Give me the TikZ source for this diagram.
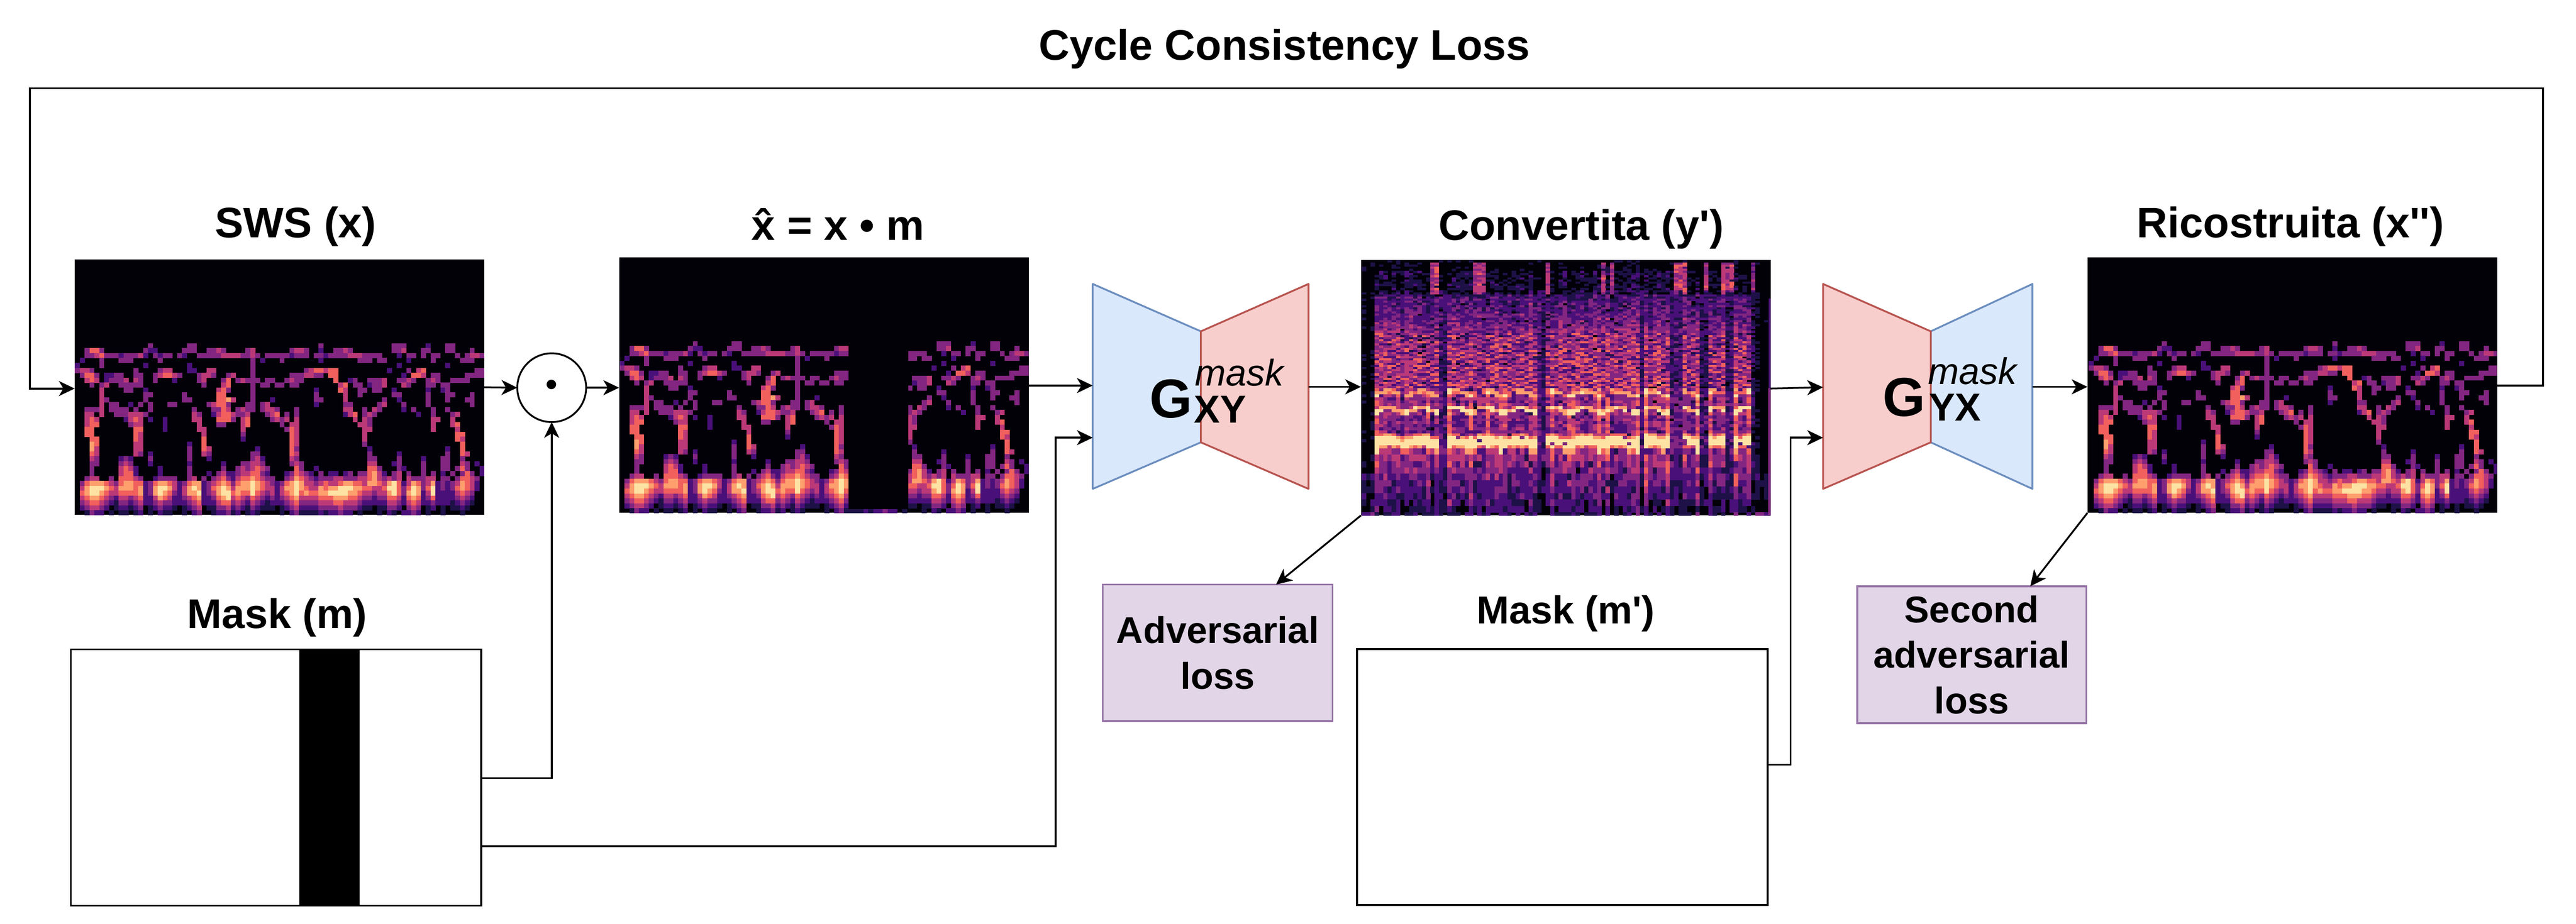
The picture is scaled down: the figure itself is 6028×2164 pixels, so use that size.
\documentclass[tikz,border=0pt]{standalone}
\usepackage{fontspec}
\setmainfont{Liberation Sans}
\newfontfamily\plainf{Liberation Sans}
\usetikzlibrary{arrows.meta}
\definecolor{k0}{HTML}{020108}
\definecolor{mg2}{HTML}{4A1079}
\definecolor{mg3}{HTML}{822681}
\definecolor{blueF}{HTML}{DAE8FC}\definecolor{blueS}{HTML}{6C8EBF}
\definecolor{pinkF}{HTML}{F8CECC}\definecolor{pinkS}{HTML}{B85450}
\definecolor{lilaF}{HTML}{E1D5E7}\definecolor{lilaS}{HTML}{9673A6}
\tikzset{
  conn/.style={line width=1.2pt,-{Stealth[length=10.5pt,width=10pt,inset=3pt]}},
  spec/.style={inner sep=0pt,outer sep=0pt,minimum width=9.58cm,minimum height=5.98cm},
  title/.style={anchor=base,inner sep=0pt,font=\plainf\bfseries\fontsize{28.4}{34}\selectfont},
  maskbox/.style={draw=black,line width=1.2pt,fill=white,inner sep=0pt,outer sep=0pt,minimum width=9.6cm,minimum height=6cm},
  lossbox/.style={draw=lilaS,fill=lilaF,line width=1.2pt,inner sep=0pt,outer sep=0pt,align=center,font=\plainf\bfseries\fontsize{24.75}{30.4}\selectfont},
  gbig/.style={anchor=base,inner sep=0pt,font=\plainf\bfseries\fontsize{36.5}{40}\selectfont},
  gsub/.style={anchor=base,inner sep=0pt,font=\plainf\bfseries\fontsize{26}{30}\selectfont},
  gsup/.style={anchor=base,inner sep=0pt,font=\plainf\itshape\fontsize{24.75}{30}\selectfont},
}
\makeatletter
\newcommand\rawinv[1]{\pgfsys@invoke{#1}}
\makeatother
\expandafter\def\csname pc1\endcsname{.114 .067 .278 rg}
\expandafter\def\csname pc2\endcsname{.29 .063 .475 rg}
\expandafter\def\csname pc3\endcsname{.51 .149 .506 rg}
\expandafter\def\csname pc4\endcsname{.737 .224 .471 rg}
\expandafter\def\csname pc5\endcsname{.945 .376 .365 rg}
\expandafter\def\csname pc6\endcsname{.996 .624 .427 rg}
\expandafter\def\csname pc7\endcsname{.992 .886 .639 rg}
\newcommand\pxOpen[2]{\pgfmathsetmacro\ee{#1*0.283465}\pgfmathsetmacro\ff{-#2*0.283465}\rawinv{q 0.0283465 0 0 -0.0283465 \ee\space\ff\space cm}}
\newcommand\pxClose{\rawinv{Q}}
% --- cell painter for the harmonic spectrogram ---
\def\scancell#1{\ifx#1\relax\let\swnext\relax\else
  \ifx#1.\else\rawinv{\csname pc#1\endcsname\space\the\numexpr\cx*114\relax\space\the\numexpr\ry*115\relax\space 119 120 re f}\fi
  \edef\cx{\the\numexpr\cx+1\relax}\let\swnext\scancell\fi\swnext}
\newcommand\srow[2]{\edef\ry{#1}\foreach \cc/\ss in {#2}{\edef\cx{\cc}\expandafter\scancell\ss\relax}}
\newcommand\sfull[2]{\edef\ry{#1}\edef\cx{0}\scancell#2\relax}
\newcommand\swsData{%
\srow{17}{15/3,23/33,50/3,65/333,72/2,76/33}
\srow{18}{2/3553,14/32,16/2,22/333,27/3343,35/3,36/4,44/3443,50/2,53/3343,65/334,71/33,76/33,81/3}
\srow{19}{2/3,3/34,5/53,7/3323334,14/2,16/32,18/33,21/32,25/3333,29/3444433,36/43,39/333332,45/333,49/33,51/2,52/3333,56/4443,60/33,62/3,66/2,68/33,71/3,73/33,78/3,80/3443}
\srow{20}{1/2,5/3,9/333,17/3,36/3,38/2,42/3,50/2,58/333,62/33,68/2,73/3,79/333}
\srow{21}{0/2,5/3,14/2,23/2,36/3,66/2,76/2}
\srow{22}{0/3443,12/3,17/344,23/22,27/44,36/3,47/3455,51/455,64/2,68/3,70/45,82/33}
\srow{23}{1/3553,6/22,8/33,12/33,16/345543,25/3443,31/34,36/3,44/33,46/344,49/33,52/55,67/2,69/554,73/33,80/3333}
\srow{24}{2/454,6/23,8/334,12/43,16/3,20/2,25/34,30/35,33/343,36/33,39/33,43/3433,53/5,56/23,60/3334,66/3,67/343,72/343,77/3333}
\srow{25}{3/3,5/34,9/3333,13/3,26/3,30/45,36/3,38/33,41/33,44/33,54/45,57/33,60/2334,67/43,72/33,75/33}
\srow{26}{5/4,10/33,14/2,29/4,30/53,36/3,49/2,54/54,58/33,61/33,65/2,72/2,75/2,76/3}
\srow{27}{5/4,14/33,22/3,29/55,36/3,49/3,55/4,58/3,65/33,72/3,76/33,81/3}
\srow{28}{5/43,14/3,22/33,29/556,32/4,36/3,40/2,49/33,55/4,63/3,66/2,72/3,76/3,80/33}
\srow{29}{5/4,7/33,11/2,13/3,15/3,19/33,27/34,29/553,35/33,38/34,49/2,55/33,62/34,67/3,72/3,81/3}
\srow{30}{2/3,3/33,5/4,7/3333,12/3,15/3,24/3,28/33,30/54,33/34,35/33,38/344,41/3,45/3,55/44,59/3,61/43,67/2,69/3,73/3,76/3}
\srow{31}{2/44,5/4,8/33,10/344,13/43,24/43,28/2,29/4,30/55,32/43,34/34,39/345,43/3,45/3,55/2,56/45,59/3,60/43,70/2,73/3,77/34}
\srow{32}{2/45,4/4,10/2,11/454,15/2,18/2,24/44,29/555,32/3,34/45,40/34,42/34,45/4,57/4,59/43,73/44,77/4}
\srow{33}{2/45,4/5,11/344,18/2,25/4,29/33,34/45,42/3,44/44,58/443,73/4,77/45}
\srow{34}{2/55,12/55,18/2,25/44,34/4,43/3,44/54,59/44,73/4,78/4}
\srow{35}{2/55,12/54,26/4,34/3,44/54,59/4,78/55}
\srow{36}{3/55,12/54,26/5,34/2,44/54,59/4,78/54}
\srow{37}{3/65,12/44,23/2,26/5,44/54,59/3,79/5}
\srow{38}{3/64,12/44,23/3,26/54,37/2,44/53,60/2,76/2,79/5}
\srow{39}{3/54,12/43,15/2,23/3,26/43,36/33,44/54,60/3,66/2,76/3,79/54}
\srow{40}{3/43,9/232,15/3,23/3,27/2,36/342,44/43,60/33,66/3,71/2,75/33,79/3}
\srow{41}{3/33,9/343,15/2,23/2,30/2,34/33,36/443,44/343,60/44,65/23,71/3,75/33,79/43,82/2}
\srow{42}{3/3,9/4542,17/2,23/3,30/3,33/343,36/4543,45/53,49/2,60/553,66/32,71/3,75/33,78/353,83/2}
\sfull{43}{...3.....4 552....2.. ...3...2.3 4223445532 ...235432. 3.22.23.33 5642.34.3. .3.3.2.3.3 53.2}
\sfull{44}{..344..3.5 5543..2333 3..34.3.34 5324556543 3..3465432 3334433344 5643434.43 3344.33.35 543.}
\sfull{45}{.356665435 6655235665 4235662345 6535667654 3235676443 4544566554 6654675246 5346232346 542.}
\sfull{46}{.467776546 6656236776 4246762356 7646667654 4246676544 6566777665 5445775357 6357232356 542.}
\sfull{47}{.567765445 5556236765 3246672346 7756557543 4245675655 6677776654 4344675367 6247222245 43..}
\sfull{48}{.456654324 4345224654 2234562235 6745435432 3234564444 5556665543 3233554256 5235222234 32..}
\sfull{49}{.345543213 3234223433 2223452224 5534324321 2223453333 4445544432 2222443245 4223222123 21..}
\sfull{50}{.234432.12 2123.12322 1.1234.113 3423213211 1.12342222 3333433321 1.11332.34 3.12.1.112 1...}
\sfull{51}{..1322.1.1 1.12.1.211 ..1.23..12 2312.121.. ..1.231111 2122322.1. ..1.21.223 2.1..1...1 ....}
}
\newcommand\swsImage[2]{%
  \fill[k0] (#1,#2) rectangle ++(958,598);
  \begin{scope}
    \clip (#1,#2) rectangle ++(958,598);
    \pxOpen{#1}{#2}
    \swsData
    \pxClose
  \end{scope}
}
% --- procedural speech spectrogram ---
\newcount\lseed \lseed=4242 \newcount\rtmp \newcount\rrn \newcount\vvn \newcount\wwn \newcount\tyc
\def\nextrand{\global\lseed=\numexpr\lseed*1105+12345\relax\rtmp=\lseed\divide\rtmp by 65536 \multiply\rtmp by 65536 \global\advance\lseed by -\rtmp\rrn=\lseed\divide\rrn by 64 }
\def\parsetypes#1{\ifx#1\relax\let\swnext\relax\else\expandafter\edef\csname ty\the\tyc\endcsname{#1}\advance\tyc by 1 \let\swnext\parsetypes\fi\swnext}
\tyc=0
\parsetypes 000 522222222222 5 3 311 522225 333 5225 52222225 11 3 52225 5222225 3 5 3 222225 1 522225 1 44 3 225 1 4 522 3 44 5225 4 0000\relax
\newcommand\absnear[4]{\wwn=\numexpr#1-(#2)\relax\ifnum\wwn<0 \wwn=-\wwn\fi\ifnum\wwn<#3 #4\fi}
\newcommand\weakVal[2]{%
  \ifnum#1<70
    \ifnum#2=1 \ifnum#1>3 \vvn=46 \fi\fi
  \else\ifnum#1<300 \vvn=20
  \else\ifnum#1<440 \vvn=24
  \else\vvn=\numexpr30-(#1-440)/6\relax\fi\fi\fi}
\newcommand\voicedVal[2]{%
  \ifnum#2<78
    \ifnum#1=3 \ifnum#2>3 \vvn=46 \fi\else\ifnum#2>20 \vvn=9 \fi\fi
  \else\ifnum#2<170 \vvn=\numexpr22+(#2-78)/6\relax
  \else\ifnum#2<300
    \vvn=\numexpr36+(#2-170)/30\relax \wwn=\numexpr#2+\wb\relax \divide\wwn by 14 \multiply\wwn by 14 \wwn=\numexpr#2+\wb-\wwn\relax
    \ifnum\wwn<7 \advance\vvn by 14 \else\advance\vvn by -6 \fi
  \else\ifnum#2<442
    \vvn=38
    \ifnum#2>360 \ifnum#2<403 \advance\vvn by -4 \fi\fi
    \absnear{#2}{308+\wb}{6}{\advance\vvn by 34 }%
    \absnear{#2}{347+\wb}{6}{\advance\vvn by 44 }%
    \absnear{#2}{422+\wb/2}{17}{\advance\vvn by 26 }%
    \absnear{#2}{422+\wb/2}{10}{\advance\vvn by 36 }%
    \ifnum#1=5 \advance\vvn by 20 \fi
  \else\vvn=\numexpr42-(#2-440)/5\relax
    \ifnum#1=5 \advance\vvn by 12 \fi
  \fi\fi\fi\fi}
\newcommand\convVal[2]{%
  \vvn=0
  \ifnum#1=0
    \ifnum#2>440 \vvn=10 \fi
    \ifnum#2>580 \vvn=26 \fi
  \else\ifnum#1=1 \weakVal{#2}{0}%
  \else\ifnum#1=4 \weakVal{#2}{1}%
  \else\voicedVal{#1}{#2}\fi\fi\fi}
\newcommand\convImage[2]{%
  \fill[k0] (#1,#2) rectangle ++(958,598);
  \begin{scope}
    \clip (#1,#2) rectangle ++(958,598);
    \pxOpen{#1}{#2}
    \gdef\rowlist{}
    \foreach \y in {0,5,...,295}{\xdef\rowlist{\rowlist\y/55,}}
    \foreach \y in {300,307,...,433}{\xdef\rowlist{\rowlist\y/75,}}
    \foreach \y in {440,455,...,575}{\xdef\rowlist{\rowlist\y/155,}}
    \xdef\rowlist{\rowlist 590/100}
    \foreach \i in {0,...,95}{
      \edef\ty{\csname ty\i\endcsname}
      \pgfmathtruncatemacro\wb{round(6*sin(\i*47))}
      \nextrand\edef\gn{\the\numexpr\rrn*11/1024-5\relax}
      \foreach \y/\h in \rowlist{
        \convVal{\ty}{\y}
        \nextrand\advance\vvn by \numexpr\rrn*23/1024-11+\gn\relax
        \nextrand\ifnum\rrn<35 \divide\vvn by 3 \fi
        \ifnum\vvn<10 \else
          \edef\cn{\ifnum\vvn<20 1\else\ifnum\vvn<32 2\else\ifnum\vvn<44 3\else\ifnum\vvn<56 4\else\ifnum\vvn<70 5\else\ifnum\vvn<86 6\else 7\fi\fi\fi\fi\fi\fi}
          \rawinv{\csname pc\cn\endcsname\space\the\numexpr\i*100\relax\space\the\numexpr\y*10\relax\space 105 \h\space re f}
        \fi
      }
    }
    \pxClose
    \fill[mg3] (#1+953,#2+300) rectangle ++(5,298);
    \fill[mg2] (#1+954,#2+90) rectangle ++(4,210);
  \end{scope}
}
\begin{document}
\begin{tikzpicture}[x=0.01cm,y=-0.01cm]
\useasboundingbox (0,0) rectangle (6028,2164);
\fill[white] (0,0) rectangle (6028,2164);

% spectrogram images
\swsImage{175}{608}
\swsImage{1449}{603}
\fill[k0] (1985,603) rectangle (2125,1192);
\convImage{3185}{609}
\swsImage{4885}{603}
\node[spec] (sws) at (654,907) {};
\node[spec] (xhat) at (1928,902) {};
\node[spec] (conv) at (3664,908) {};
\node[spec] (rec) at (5364,902) {};

% titles
\node[title] (tcycle) at (3006,140) {Cycle Consistency Loss};
\node[title] (tsws) at (692,556) {SWS (x)};
\node[title] (txhat) at (1961,563) {x̂ = x • m};
\node[title] (tconv) at (3700,563) {Convertita (y')};
\node[title] (trec) at (5360,556) {Ricostruita (x'')};
\node[title,font=\plainf\bfseries\fontsize{27.6}{34}\selectfont] (tm) at (649,1472) {Mask (m)};
\node[title,font=\plainf\bfseries\fontsize{25.9}{34}\selectfont] (tmp) at (3664,1460) {Mask (m')};

% masks
\node[maskbox] (mask) at (646,1821) {};
\fill[black] (701,1521) rectangle (841,2121);
\draw[black,line width=1.2pt] (mask.north west) rectangle (mask.south east);
\node[maskbox,minimum width=9.6cm,minimum height=5.99cm] (maskp) at (3656,1820) {};

% product node
\node[draw=black,circle,line width=1.2pt,inner sep=0pt,outer sep=0pt,minimum size=1.61cm,font=\plainf\bfseries\fontsize{22}{24}\selectfont] (dot) at (1291,908) {•};

% generators
\coordinate (a1) at (2557,665);\coordinate (a2) at (2810,776);\coordinate (a3) at (2810,1036);\coordinate (a4) at (2557,1145);
\coordinate (a5) at (3062,665);\coordinate (a6) at (3062,1145);
\draw[blueS,fill=blueF,line width=1.2pt,line join=round] (a1)--(a2)--(a3)--(a4)--cycle;
\draw[pinkS,fill=pinkF,line width=1.2pt,line join=round] (a2)--(a5)--(a6)--(a3)--cycle;
\coordinate (b1) at (4266,665);\coordinate (b2) at (4518,776);\coordinate (b3) at (4518,1036);\coordinate (b4) at (4266,1145);
\coordinate (b5) at (4756,665);\coordinate (b6) at (4756,1145);
\draw[blueS,fill=blueF,line width=1.2pt,line join=round] (b2)--(b5)--(b6)--(b3)--cycle;
\draw[pinkS,fill=pinkF,line width=1.2pt,line join=round] (b1)--(b2)--(b3)--(b4)--cycle;
\node[gbig] (g1) at (2740,978) {G};
\node[gsub] (g1s) at (2855,990) {XY};
\node[gsup] (g1m) at (2900,903) {mask};
\node[gbig] (g2) at (4456,975) {G};
\node[gsub] (g2s) at (4575,986) {YX};
\node[gsup] (g2m) at (4616,900) {mask};

% losses
\node[lossbox,minimum width=5.37cm,minimum height=3.2cm] (adv) at (2849.5,1529) {Adversarial\\loss};
\node[lossbox,minimum width=5.36cm,minimum height=3.21cm] (adv2) at (4614,1533.5) {Second\\adversarial\\loss};

% ports
\coordinate (p1) at (70,910);\coordinate (p2) at (70,207);\coordinate (p3) at (5951,207);\coordinate (p4) at (5951,903);
\coordinate (swsin) at (sws.west |- p1);
\coordinate (recout) at (rec.east |- p4);
\coordinate (q1) at (1291,1822);\coordinate (q1s) at (mask.east |- q1);
\coordinate (q2) at (2470,1982);\coordinate (q2s) at (mask.east |- q2);
\coordinate (q3) at (2470,1025);\coordinate (g1in2) at (a1 |- q3);
\coordinate (g1in1) at (a1 |- 0,903);
\coordinate (g1out) at (a5 |- 0,906);
\coordinate (convin) at (conv.west |- g1out);
\coordinate (q4) at (4190,1791);\coordinate (q4s) at (maskp.east |- q4);
\coordinate (q5) at (4190,1025);\coordinate (g2in2) at (b1 |- q5);
\coordinate (g2in1) at (b1 |- 0,907);
\coordinate (g2out) at (b5 |- 0,906);
\coordinate (recin) at (rec.west |- g2out);
\coordinate (advtip) at (2986,1369);
\coordinate (adv2tip) at (4751,1373);

% connectors
\draw[conn] (recout) -- (p4) -- (p3) -- (p2) -- (p1) -- (swsin);
\draw[conn] (sws.east) -- (dot.west);
\draw[conn] (dot.east) -- (xhat.west |- dot.east);
\draw[conn] (q1s) -- (q1) -- (dot.south);
\draw[conn] (xhat.east |- g1in1) -- (g1in1);
\draw[conn] (q2s) -- (q2) -- (q3) -- (g1in2);
\draw[conn] (g1out) -- (convin);
\draw[conn] (conv.south west) -- (advtip);
\draw[conn] (conv.east |- 0,910) -- (g2in1);
\draw[conn] (q4s) -- (q4) -- (q5) -- (g2in2);
\draw[conn] (g2out) -- (recin);
\draw[conn] (rec.south west) -- (adv2tip);
\end{tikzpicture}
\end{document}
